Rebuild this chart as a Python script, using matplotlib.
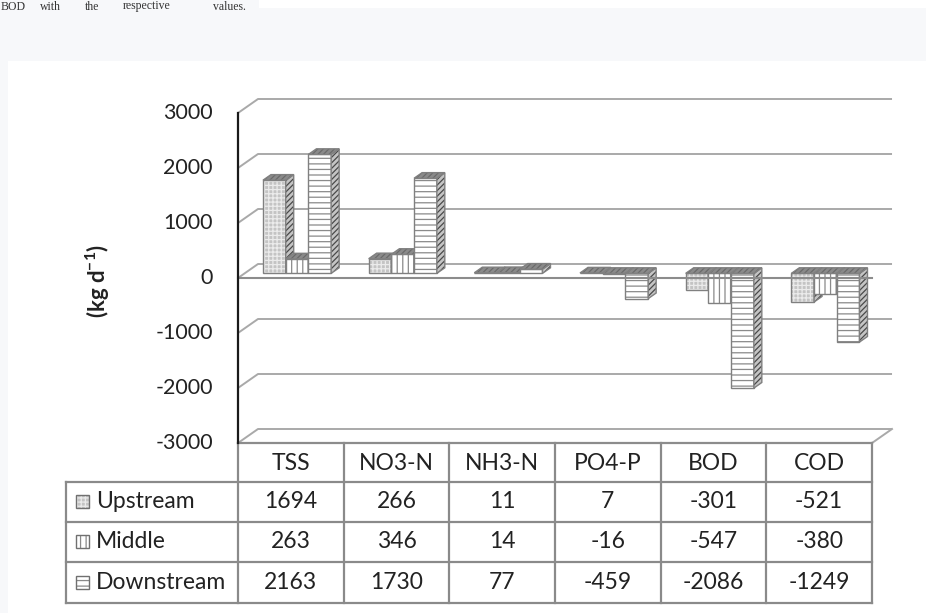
import matplotlib
matplotlib.use('Agg')
import matplotlib.pyplot as plt
from matplotlib.patches import Polygon, Rectangle
from matplotlib.transforms import offset_copy

# ---------------- data ----------------
categories = ['TSS', 'NO3-N', 'NH3-N', 'PO4-P', 'BOD', 'COD']
series_names = ['Upstream', 'Middle', 'Downstream']
upstream = [1694, 266, 11, 7, -301, -521]
middle = [263, 346, 14, -16, -547, -380]
downstream = [2163, 1730, 77, -459, -2086, -1249]
y_ticks = [-3000, -2000, -1000, 0, 1000, 2000, 3000]
y_label = r'(kg d$^{\mathbf{-1}}$)'
caption_words = ['BOD', 'with', 'the', 'respective', 'values.']

series = [upstream, middle, downstream]

plt.rcParams['font.family'] = ['Lato', 'DejaVu Sans']
plt.rcParams['mathtext.fontset'] = 'custom'
plt.rcParams['mathtext.rm'] = 'Lato'
plt.rcParams['mathtext.bf'] = 'Lato:bold'
plt.rcParams['hatch.linewidth'] = 0.9

W, H = 926, 613
fig = plt.figure(figsize=(W / 100, H / 100), dpi=100)

# background / pixel-space overlay
bg = fig.add_axes([0, 0, 1, 1], zorder=0)
bg.set_xlim(0, W)
bg.set_ylim(H, 0)
bg.axis('off')
bg.add_patch(Rectangle((0, 0), W, H, color='#f7f8fa', lw=0))
bg.add_patch(Rectangle((259, 0), W - 259, 8, color='white', lw=0))
bg.add_patch(Rectangle((8, 61), W - 8, H - 61, color='white', lw=0))

# caption fragment at top (kept fully inside the canvas)
word_x = [1, 40, 85, 123, 213]
for wx, wtxt in zip(word_x, caption_words):
    bg.text(wx, 0.5, wtxt, family=['Liberation Serif', 'DejaVu Serif'], fontsize=8.5,
            ha='left', va='top', color='#333333')

# ---------------- 3D chart geometry ----------------
col_w = 105.67                 # px per category
px_per_unit = 0.055            # px per kg/d
DX = 20 / col_w                # depth offset in category units
DY = 14 / px_per_unit          # depth offset in value units
ymin, ymax = y_ticks[0], y_ticks[-1]
ax_left, ax_bottom_px = 238, 443
ax_w = (len(categories) + DX) * col_w
ax_h = (ymax - ymin + DY) * px_per_unit
ax = fig.add_axes([ax_left / W, (H - ax_bottom_px) / H, ax_w / W, ax_h / H], zorder=2)
ax.set_xlim(0, len(categories) + DX)
ax.set_ylim(ymin, ymax + DY)
ax.axis('off')
ax.patch.set_visible(False)

ncat = len(categories)
grid_c = '#a9a9a9'
for v in y_ticks:
    ax.plot([0, DX, ncat + DX], [v, v + DY, v + DY], color=grid_c, lw=1.4,
            solid_capstyle='butt', zorder=1, clip_on=False)
# floor edges
ax.plot([ncat, ncat + DX], [ymin, ymin + DY], color=grid_c, lw=1.4, zorder=1, clip_on=False)
ax.plot([0, ncat], [ymin, ymin], color='#8c8c8c', lw=1.6, zorder=1, clip_on=False)
# value axis
ax.plot([0, 0], [ymin, ymax], color='#1a1a1a', lw=1.6, zorder=12, clip_on=False)
# front zero line
ax.plot([0, ncat], [0, 0], color='#8c8c8c', lw=1.5, zorder=11, clip_on=False)

tick_tr = offset_copy(ax.transData, fig=fig, x=-25, y=0, units='dots')
for v in y_ticks:
    ax.text(0, v, f'{v}', transform=tick_tr, ha='right', va='center',
            fontsize=15.5, color='#222222', clip_on=False)

fig.text(98 / W, 1 - 281 / H, y_label, rotation=90, ha='center', va='center',
         fontsize=16, fontweight='bold', color='#222222')

# bar styles
face_styles = [
    dict(face='#c4c4c4', hatch='++++', hc='#ebebeb'),
    dict(face='white', hatch='|||', hc='#8a8a8a'),
    dict(face='white', hatch='---', hc='#8a8a8a'),
]
side_style = dict(face='#c4c4c4', hatch='//////', hc='#4a4a4a')
top_style = dict(face='#8a8a8a', hatch='//////', hc='#6a6a6a')
edge_c = '#808080'


def poly(pts, st, z=3):
    ax.add_patch(Polygon(pts, closed=True, facecolor=st['face'], edgecolor=st['hc'],
                         hatch=st['hatch'], lw=0, zorder=z, clip_on=False))
    ax.add_patch(Polygon(pts, closed=True, facecolor='none', edgecolor=edge_c,
                         lw=1.0, zorder=z, clip_on=False, joinstyle='miter'))


f0, f1 = 0.33, 0.73
bw = 0.215
start = 0.174
d = (f1 - f0) * DX
dd = (f1 - f0) * DY
for i in range(ncat):
    for j, vals in enumerate(series):
        v = vals[i]
        x0 = i + start + j * bw + f0 * DX
        x1 = x0 + bw
        lo = min(v, 0) + f0 * DY
        hi = max(v, 0) + f0 * DY
        poly([(x0, lo), (x1, lo), (x1, hi), (x0, hi)], face_styles[j])
        poly([(x1, lo), (x1 + d, lo + dd), (x1 + d, hi + dd), (x1, hi)], side_style)
        poly([(x0, hi), (x1, hi), (x1 + d, hi + dd), (x0 + d, hi + dd)], top_style)

# ---------------- data table ----------------
tbl_c = '#8a8a8a'
col_x = [ax_left + k * col_w for k in range(ncat + 1)]
row_y = [443, 482, 522, 562, 603]
leg_x = 66
for k, y in enumerate(row_y[1:]):
    bg.plot([leg_x, col_x[-1]], [y, y], color=tbl_c, lw=1.6, zorder=1)
for x in col_x:
    bg.plot([x, x], [row_y[0], row_y[-1]], color=tbl_c, lw=1.6, zorder=1)
bg.plot([leg_x, leg_x], [row_y[1], row_y[-1]], color=tbl_c, lw=1.6, zorder=1)

tfs = 16.5
for i, cat in enumerate(categories):
    cx = (col_x[i] + col_x[i + 1]) / 2
    bg.text(cx, (row_y[0] + row_y[1]) / 2 + 1, cat, ha='center', va='center',
            fontsize=tfs, color='#222222')
    for j, vals in enumerate(series):
        cy = (row_y[j + 1] + row_y[j + 2]) / 2
        bg.text(cx, cy, f'{vals[i]}', ha='center', va='center', fontsize=tfs,
                color='#222222')

for j, name in enumerate(series_names):
    cy = (row_y[j + 1] + row_y[j + 2]) / 2
    bg.text(96, cy, name, ha='left', va='center', fontsize=tfs, color='#222222')
    st = face_styles[j]
    bg.add_patch(Rectangle((76, cy - 7), 13, 13, facecolor=st['face'], edgecolor=st['hc'],
                           hatch=st['hatch'], lw=0, zorder=2))
    bg.add_patch(Rectangle((76, cy - 7), 13, 13, facecolor='none', edgecolor='#707070',
                           lw=1.0, zorder=2))

fig.savefig('out.png', dpi=100)
